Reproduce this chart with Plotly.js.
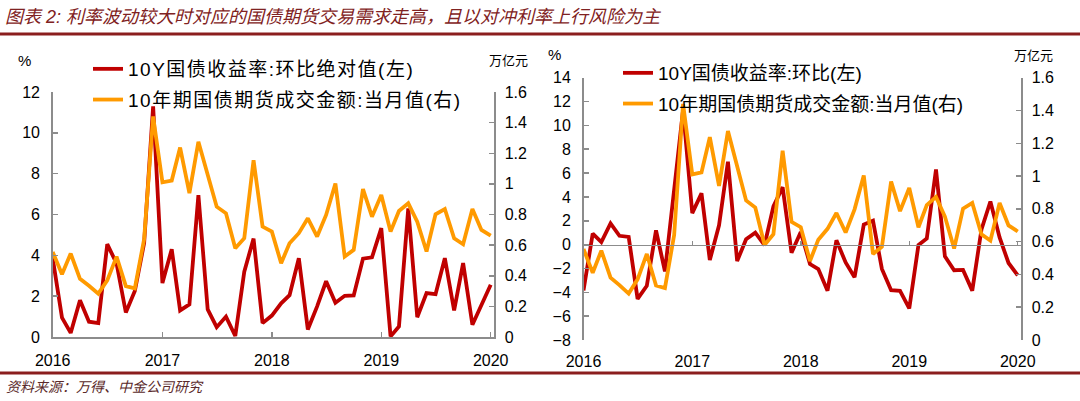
<!DOCTYPE html>
<html>
<head>
<meta charset="utf-8">
<script src="https://cdn.plot.ly/plotly-3.0.1.min.js"></script>
<style>
html,body{margin:0;padding:0;background:#fff;}
#chart{width:1080px;height:401px;}
.legendtext{letter-spacing:1.5px;}
</style>
</head>
<body>
<div id="chart"></div>
<script>
// ---- data ----
const months = ['2016-01','2016-02','2016-03','2016-04','2016-05','2016-06','2016-07','2016-08','2016-09','2016-10','2016-11','2016-12',
  '2017-01','2017-02','2017-03','2017-04','2017-05','2017-06','2017-07','2017-08','2017-09','2017-10','2017-11','2017-12',
  '2018-01','2018-02','2018-03','2018-04','2018-05','2018-06','2018-07','2018-08','2018-09','2018-10','2018-11','2018-12',
  '2019-01','2019-02','2019-03','2019-04','2019-05','2019-06','2019-07','2019-08','2019-09','2019-10','2019-11','2019-12',
  '2020-01'];
// 10Y yield m/m change, absolute value (%), left chart
const absChange = [3.85,0.95,0.2,1.8,0.75,0.68,4.55,3.6,1.2,2.25,4.6,11.3,
  2.64,4.3,1.3,1.6,6.95,1.35,0.48,1.0,0.05,3.2,4.82,0.68,
  1.05,1.65,2.05,3.86,0.37,1.5,2.73,1.68,2.02,2.04,3.84,3.9,
  5.33,0.03,0.52,6.3,0.97,2.15,2.1,3.86,1.3,3.62,0.6,1.52,
  2.56];
// 10Y yield m/m change (%), right chart
const signedChange = [-3.85,0.92,0.22,1.78,0.74,0.65,-4.55,-3.45,1.2,-2.25,4.6,11.3,
  2.64,4.3,-1.3,1.62,6.95,-1.38,0.45,1.0,-0.05,3.2,4.82,-0.68,
  1.05,-1.63,-2.05,-3.86,0.37,-1.5,-2.73,1.68,2.0,-2.04,-3.82,-3.88,
  -5.35,-0.03,0.52,6.3,-0.99,-2.15,-2.12,-3.86,1.28,3.62,0.6,-1.54,
  -2.58];
// 10Y treasury futures monthly turnover (trillion CNY)
const turnover = [0.555,0.41,0.545,0.38,0.335,0.283,0.37,0.525,0.332,0.317,0.64,1.44,
  1.01,1.022,1.237,0.94,1.275,1.06,0.851,0.808,0.58,0.645,1.155,0.721,
  0.688,0.482,0.612,0.678,0.775,0.656,0.797,1.003,0.525,0.569,0.966,0.786,
  0.927,0.688,0.823,0.873,0.753,0.558,0.801,0.836,0.645,0.606,0.836,0.699,
  0.662];
const yearLabels = ['2016','2017','2018','2019','2020'];

const nameAbs = '10Y国债收益率:环比绝对值(左)';
const nameSigned = '10Y国债收益率:环比(左)';
const nameTurn = '10年期国债期货成交金额:当月值(右)';
const titleText = '图表 2: 利率波动较大时对应的国债期货交易需求走高，且以对冲利率上行风险为主';
const sourceText = '资料来源：万得、中金公司研究';

// ---- styles ----
const RED = '#C00000', ORANGE = '#FF9A00', AX = '#8c8c8c';
const FONT = 'Liberation Sans, Arial, "Noto Sans CJK SC", sans-serif';
const W = 1080, H = 401;
const px = v => v / W, py = v => 1 - v / H;

const L = {l: 52.7, r: 494, t: 92, b: 337};
const R = {l: 583.5, r: 1021, t: 77.7, b: 340};
const xr = ['2016-01-01', '2020-01-12'];

const traces = [
  {x: months, y: absChange, name: nameAbs, type: 'scatter', mode: 'lines', xaxis: 'x', yaxis: 'y',
   line: {color: RED, width: 3.8}, legend: 'legend', legendgroup: 'a'},
  {x: months, y: turnover, name: nameTurn, type: 'scatter', mode: 'lines', xaxis: 'x', yaxis: 'y2',
   line: {color: ORANGE, width: 3.8}, legend: 'legend', legendgroup: 'b'},
  {x: months, y: signedChange, name: nameSigned, type: 'scatter', mode: 'lines', xaxis: 'x2', yaxis: 'y3',
   line: {color: RED, width: 3.8}, legend: 'legend2', legendgroup: 'c'},
  {x: months, y: turnover, name: nameTurn, type: 'scatter', mode: 'lines', xaxis: 'x2', yaxis: 'y4',
   line: {color: ORANGE, width: 3.8}, legend: 'legend2', legendgroup: 'd'},
  {x: [], y: [], type: 'scatter', mode: 'lines', xaxis: 'x3', yaxis: 'y3', showlegend: false, hoverinfo: 'skip'}
];

const tickFont = {family: FONT, size: 16, color: '#000'};
const baseY = {showgrid: false, zeroline: false, showline: true, linecolor: AX, linewidth: 1.5,
  ticks: 'inside', ticklen: 5, tickcolor: AX, tickwidth: 1.5, tickfont: tickFont, fixedrange: true};
const baseX = {type: 'date', range: xr, dtick: 'M12', tickformat: '%Y', showgrid: false, zeroline: false,
  tickfont: tickFont, ticks: 'inside', ticklen: 5, tickcolor: AX, tickwidth: 1.5, fixedrange: true};

const zeroPos = py(R.b) + (8 / 22) * (py(R.t) - py(R.b));

const legendBase = {bgcolor: 'rgba(0,0,0,0)', borderwidth: 0, traceorder: 'grouped', tracegroupgap: 3,
  font: {family: FONT, size: 19, color: '#000'}, xanchor: 'left', yanchor: 'top'};

const layout = {
  width: W, height: H, margin: {l: 0, r: 0, t: 0, b: 0},
  paper_bgcolor: '#fff', plot_bgcolor: 'rgba(0,0,0,0)',
  font: {family: FONT, color: '#000'},
  title: {text: titleText, x: px(5), xanchor: 'left', xref: 'container', y: py(17), yanchor: 'middle', yref: 'container',
    font: {family: FONT, size: 18, color: '#7f2222', style: 'italic'}},
  showlegend: true,
  legend: Object.assign({}, legendBase, {x: px(88), y: py(50)}),
  legend2: Object.assign({}, legendBase, {x: px(618), y: py(54)}),
  xaxis: Object.assign({}, baseX, {domain: [px(L.l), px(L.r)], anchor: 'y', showline: true, linecolor: AX, linewidth: 1.5,
    ticklabelstandoff: 8}),
  yaxis: Object.assign({}, baseY, {domain: [py(L.b), py(L.t)], anchor: 'x', range: [0, 12], dtick: 2, ticklabelstandoff: 8}),
  yaxis2: Object.assign({}, baseY, {overlaying: 'y', side: 'right', anchor: 'x', range: [0, 1.6], dtick: 0.2, ticklabelstandoff: 6}),
  xaxis2: Object.assign({}, baseX, {domain: [px(R.l), px(R.r)], anchor: 'y3', showline: false, ticks: '',
    ticklabelstandoff: 10}),
  xaxis3: Object.assign({}, baseX, {overlaying: 'x2', anchor: 'free', position: zeroPos, showline: true, linecolor: AX,
    linewidth: 1.5, showticklabels: false, ticklen: 4}),
  yaxis3: Object.assign({}, baseY, {domain: [py(R.b), py(R.t)], anchor: 'x2', range: [-8, 14], dtick: 2, ticklabelstandoff: 8}),
  yaxis4: Object.assign({}, baseY, {overlaying: 'y3', side: 'right', anchor: 'x2', range: [0, 1.6], dtick: 0.2, ticklabelstandoff: 6}),
  shapes: [
    {type: 'line', xref: 'paper', yref: 'paper', x0: 0, x1: 1, y0: py(34), y1: py(34), line: {color: '#8B1E1E', width: 3}},
    {type: 'line', xref: 'paper', yref: 'paper', x0: 0, x1: 1, y0: py(373), y1: py(373), line: {color: '#8B1E1E', width: 3}}
  ],
  annotations: [
    {text: '%', xref: 'paper', yref: 'paper', x: px(24), y: py(61), xanchor: 'center', yanchor: 'middle', showarrow: false,
      font: {family: FONT, size: 15, color: '#000'}},
    {text: '万亿元', xref: 'paper', yref: 'paper', x: px(508), y: py(61), xanchor: 'center', yanchor: 'middle', showarrow: false,
      font: {family: FONT, size: 13, color: '#000'}},
    {text: '%', xref: 'paper', yref: 'paper', x: px(554), y: py(54), xanchor: 'center', yanchor: 'middle', showarrow: false,
      font: {family: FONT, size: 15, color: '#000'}},
    {text: '万亿元', xref: 'paper', yref: 'paper', x: px(1033), y: py(55), xanchor: 'center', yanchor: 'middle', showarrow: false,
      font: {family: FONT, size: 13, color: '#000'}},
    {text: sourceText, xref: 'paper', yref: 'paper', x: px(4), y: py(387), xanchor: 'left', yanchor: 'middle', showarrow: false,
      font: {family: FONT, size: 14, color: '#5a2a2a', style: 'italic'}}
  ]
};

Plotly.newPlot('chart', traces, layout, {staticPlot: true, displayModeBar: false});
</script>
</body>
</html>
